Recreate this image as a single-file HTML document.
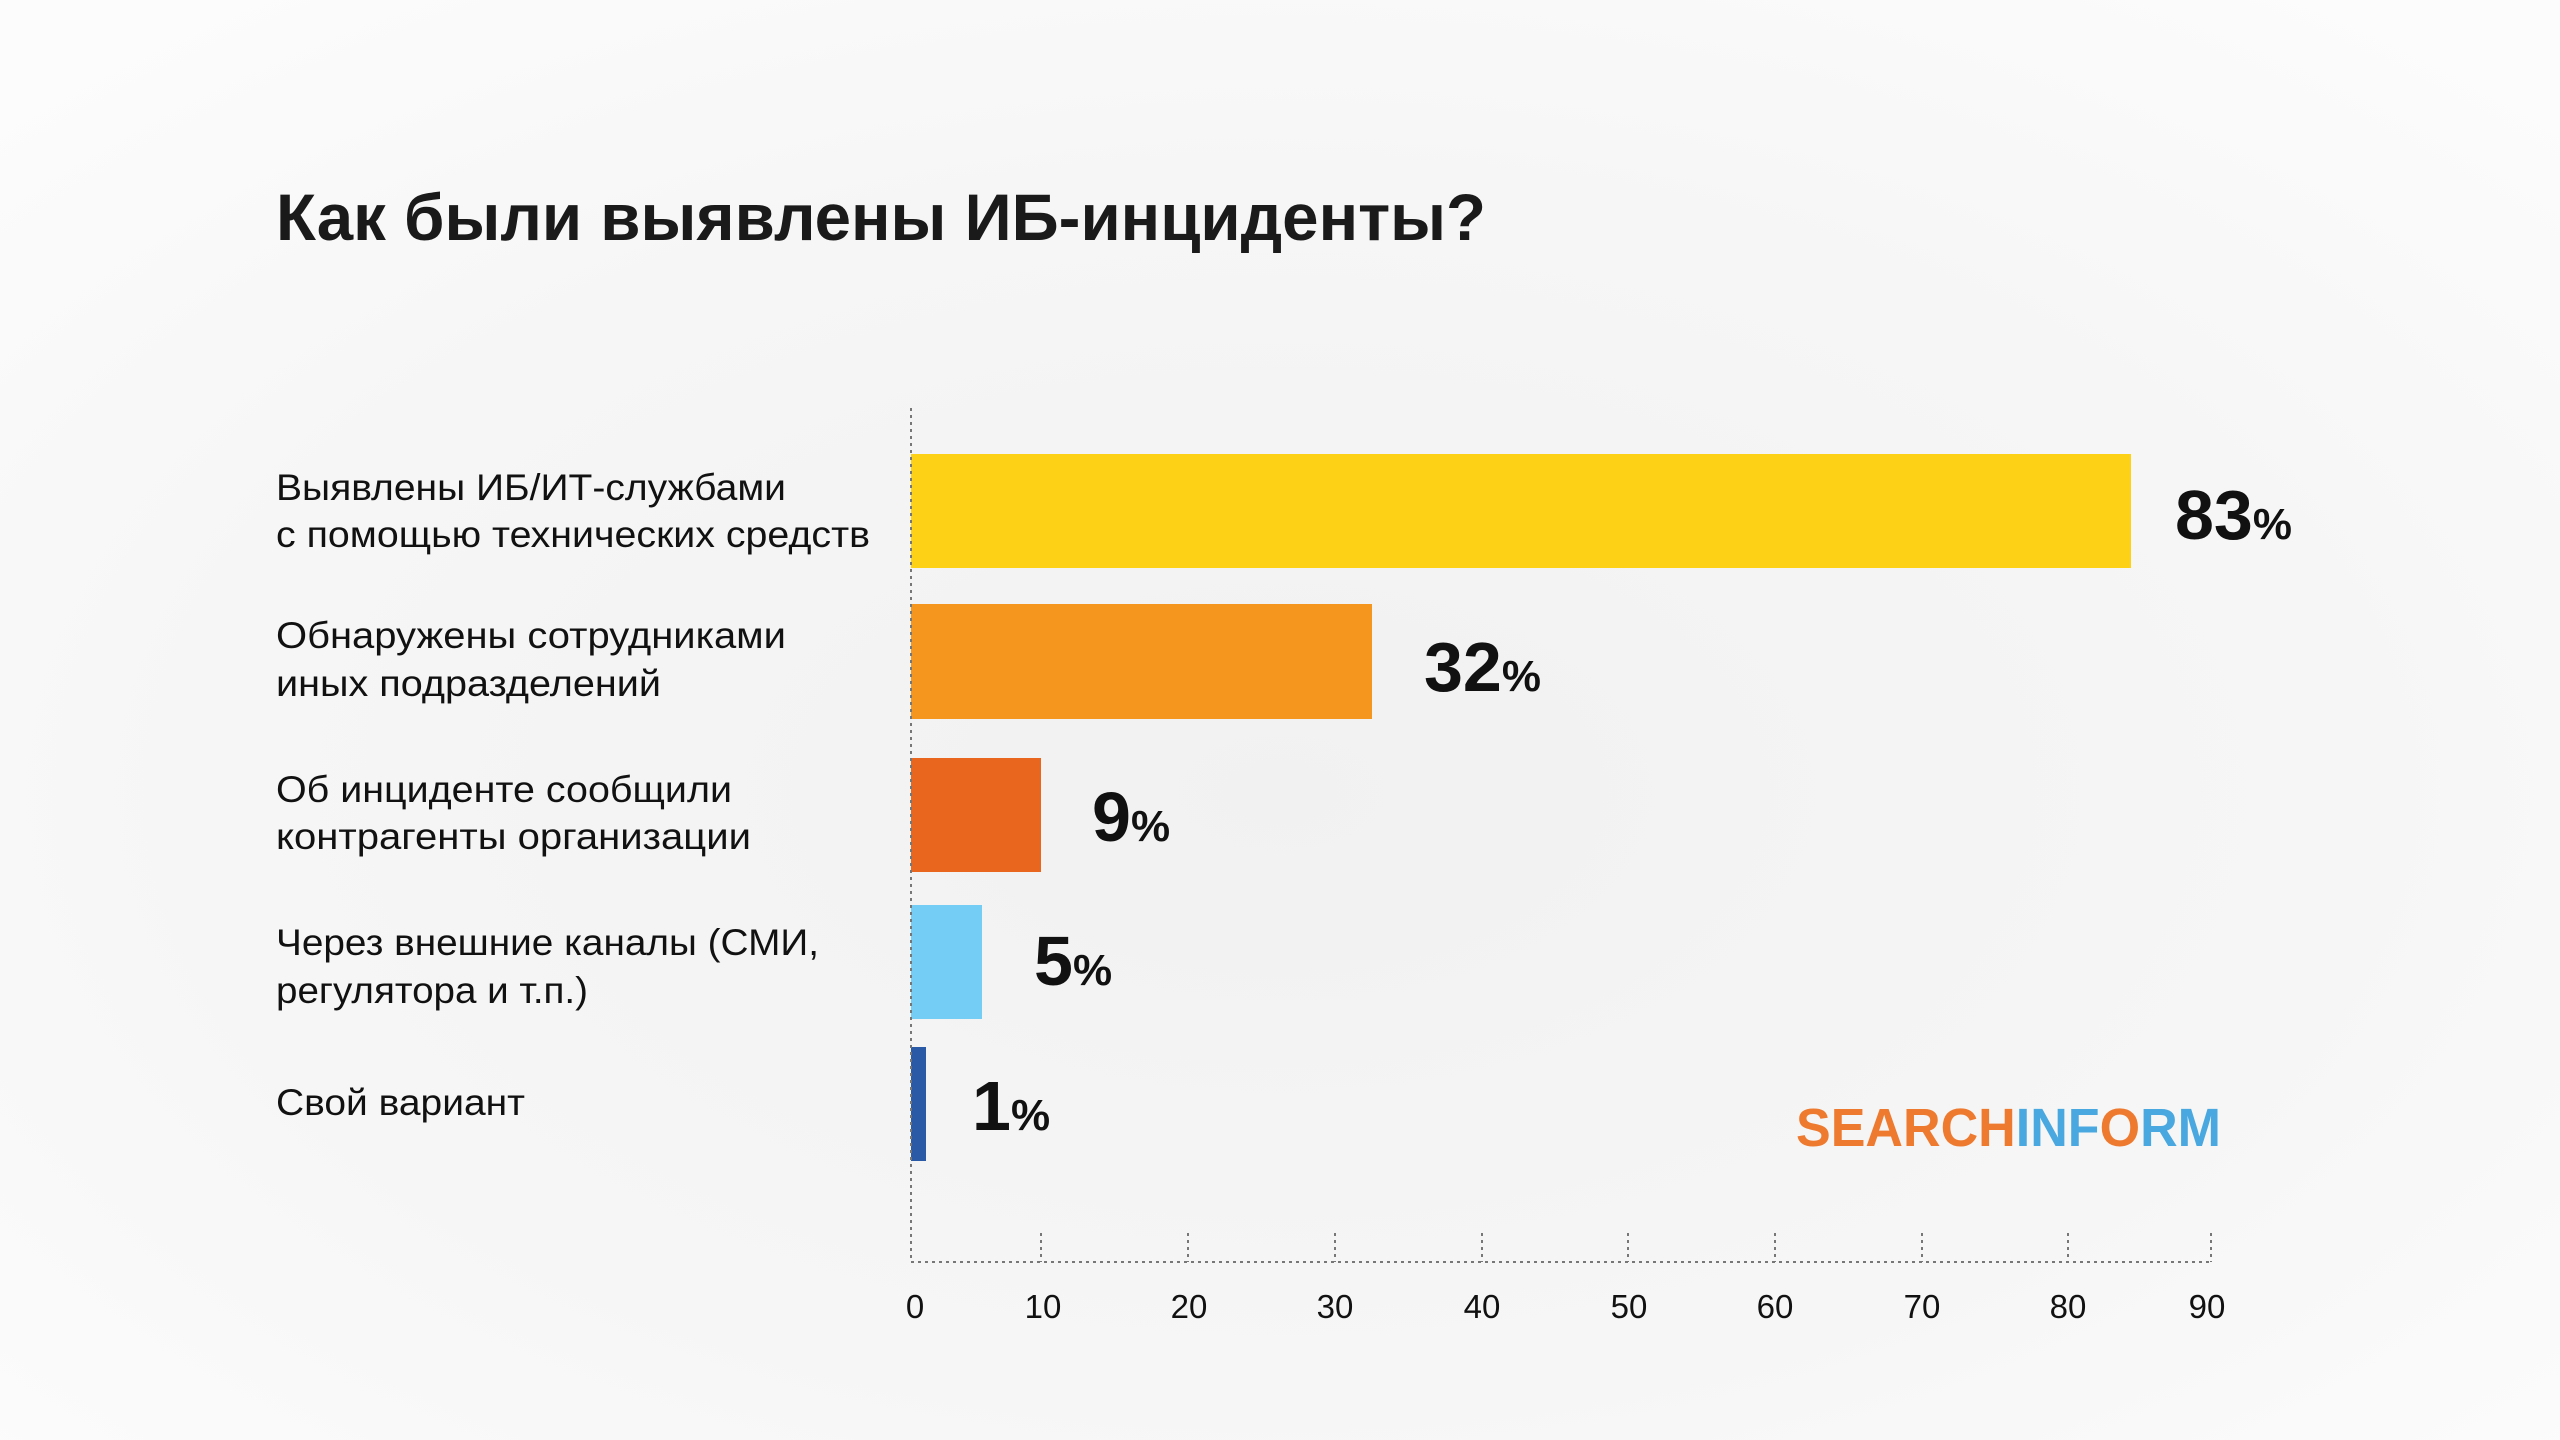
<!DOCTYPE html>
<html><head><meta charset="utf-8"><style>
html,body{margin:0;padding:0;width:2560px;height:1440px;overflow:hidden;background:#f7f7f7}
</style></head><body>
<svg width="2560" height="1440" viewBox="0 0 2560 1440" xmlns="http://www.w3.org/2000/svg" font-family="'Liberation Sans', sans-serif">
<defs>
<radialGradient id="bg" cx="0.5" cy="0.55" r="0.7">
<stop offset="0" stop-color="#f1f1f1"/><stop offset="0.6" stop-color="#f6f6f6"/><stop offset="1" stop-color="#fcfcfc"/>
</radialGradient>
</defs>
<rect width="2560" height="1440" fill="url(#bg)"/>
<text x="276" y="240" font-size="66" font-weight="bold" fill="#1a1a1a" textLength="1210" lengthAdjust="spacingAndGlyphs">Как были выявлены ИБ-инциденты?</text>
<g font-size="37" fill="#111">
<text x="276" y="500" textLength="510" lengthAdjust="spacingAndGlyphs">Выявлены ИБ/ИТ-службами</text>
<text x="276" y="547" textLength="594" lengthAdjust="spacingAndGlyphs">с помощью технических средств</text>
<text x="276" y="648" textLength="510" lengthAdjust="spacingAndGlyphs">Обнаружены сотрудниками</text>
<text x="276" y="696" textLength="385" lengthAdjust="spacingAndGlyphs">иных подразделений</text>
<text x="276" y="802" textLength="456" lengthAdjust="spacingAndGlyphs">Об инциденте сообщили</text>
<text x="276" y="849" textLength="475" lengthAdjust="spacingAndGlyphs">контрагенты организации</text>
<text x="276" y="955" textLength="543" lengthAdjust="spacingAndGlyphs">Через внешние каналы (СМИ,</text>
<text x="276" y="1003" textLength="312" lengthAdjust="spacingAndGlyphs">регулятора и т.п.)</text>
<text x="276" y="1115" textLength="249" lengthAdjust="spacingAndGlyphs">Свой вариант</text>
</g>
<rect x="911" y="454" width="1220" height="114" fill="#fcd116"/>
<rect x="911" y="604" width="461" height="115" fill="#f5961e"/>
<rect x="911" y="758" width="130" height="114" fill="#e8661e"/>
<rect x="911" y="905" width="71" height="114" fill="#74cdf4"/>
<rect x="911" y="1047" width="15" height="114" fill="#2a5aa6"/>
<g font-weight="bold" fill="#111">
<text x="2175" y="539" font-size="70">83<tspan font-size="44">%</tspan></text>
<text x="1424" y="691" font-size="70">32<tspan font-size="44">%</tspan></text>
<text x="1092" y="841" font-size="70">9<tspan font-size="44">%</tspan></text>
<text x="1034" y="985" font-size="70">5<tspan font-size="44">%</tspan></text>
<text x="972" y="1130" font-size="70">1<tspan font-size="44">%</tspan></text>
</g>
<g stroke="#777" stroke-width="2" stroke-dasharray="3,4" fill="none">
<line x1="911" y1="408" x2="911" y2="1262"/>
<line x1="911" y1="1262" x2="2211" y2="1262"/>
<line x1="1041" y1="1233" x2="1041" y2="1262"/>
<line x1="1188" y1="1233" x2="1188" y2="1262"/>
<line x1="1335" y1="1233" x2="1335" y2="1262"/>
<line x1="1482" y1="1233" x2="1482" y2="1262"/>
<line x1="1628" y1="1233" x2="1628" y2="1262"/>
<line x1="1775" y1="1233" x2="1775" y2="1262"/>
<line x1="1922" y1="1233" x2="1922" y2="1262"/>
<line x1="2068" y1="1233" x2="2068" y2="1262"/>
<line x1="2211" y1="1233" x2="2211" y2="1262"/>
</g>
<g font-size="33" fill="#111" text-anchor="middle">
<text x="915" y="1318">0</text>
<text x="1043" y="1318">10</text>
<text x="1189" y="1318">20</text>
<text x="1335" y="1318">30</text>
<text x="1482" y="1318">40</text>
<text x="1629" y="1318">50</text>
<text x="1775" y="1318">60</text>
<text x="1922" y="1318">70</text>
<text x="2068" y="1318">80</text>
<text x="2207" y="1318">90</text>
</g>
<text x="1796" y="1146" font-size="54" font-weight="bold" textLength="425" lengthAdjust="spacingAndGlyphs"><tspan fill="#ee7a2f">SEARCH</tspan><tspan fill="#4aa8e0">INF</tspan><tspan fill="#ee7a2f">O</tspan><tspan fill="#4aa8e0">RM</tspan></text>
</svg>
</body></html>
